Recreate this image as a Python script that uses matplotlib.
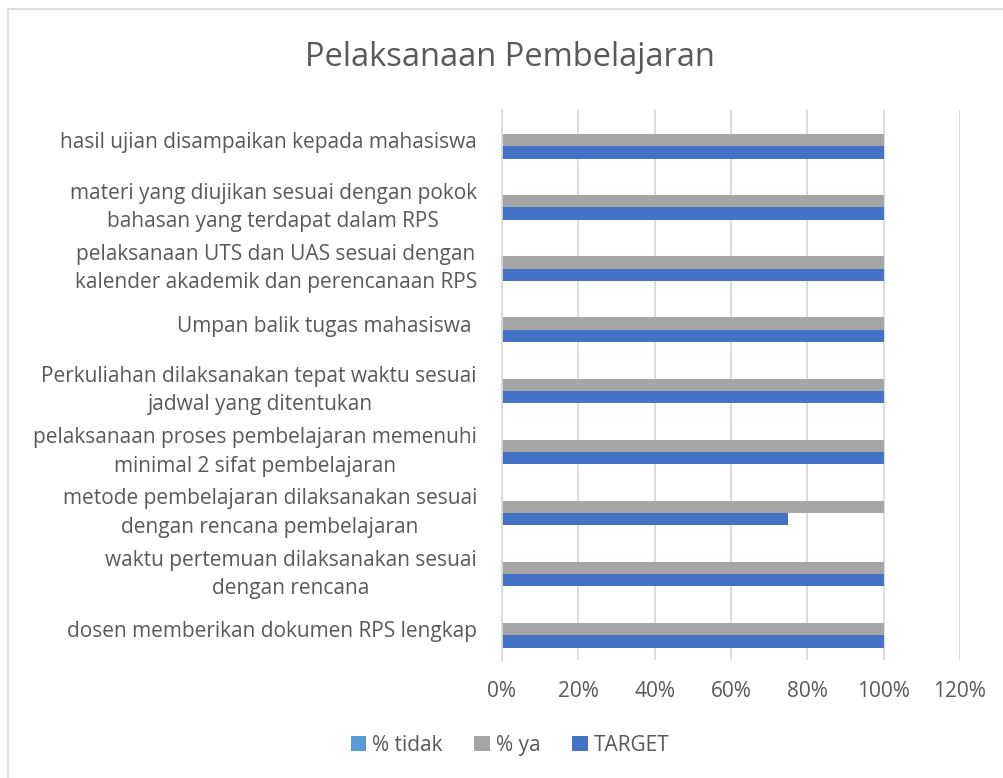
import matplotlib.pyplot as plt
import numpy as np
from matplotlib.patches import Rectangle
from matplotlib.ticker import PercentFormatter

plt.rcParams['font.family'] = ['Open Sans', 'DejaVu Sans']

# Data (top to bottom as shown)
categories = [
    'hasil ujian disampaikan kepada mahasiswa',
    'materi yang diujikan sesuai dengan pokok\nbahasan yang terdapat dalam RPS',
    'pelaksanaan UTS dan UAS sesuai dengan\nkalender akademik dan perencanaan RPS',
    'Umpan balik tugas mahasiswa ',
    'Perkuliahan dilaksanakan tepat waktu sesuai\njadwal yang ditentukan',
    'pelaksanaan proses pembelajaran memenuhi\nminimal 2 sifat pembelajaran',
    'metode pembelajaran dilaksanakan sesuai\ndengan rencana pembelajaran',
    'waktu pertemuan dilaksanakan sesuai\ndengan rencana',
    'dosen memberikan dokumen RPS lengkap',
]
pct_tidak = [0, 0, 0, 0, 0, 0, 0, 0, 0]
pct_ya = [1, 1, 1, 1, 1, 1, 1, 1, 1]
target = [1, 1, 1, 1, 1, 1, 0.75, 1, 1]

text_color = '#595959'
grid_color = '#d9d9d9'

fig = plt.figure(figsize=(10.04, 7.78), dpi=100)
ax = fig.add_axes([0.5, 0.152, 0.456, 0.707])

y = np.arange(len(categories))
h = 0.2
ax.barh(y - h, pct_tidak, height=h, color='#5B9BD5', label='% tidak')
ax.barh(y, pct_ya, height=h, color='#A5A5A5', label='% ya')
ax.barh(y + h, target, height=h, color='#4472C4', label='TARGET')

ax.set_xlim(0, 1.2)
ax.set_ylim(len(categories) - 0.5, -0.5)
ax.set_xticks(np.arange(0, 1.21, 0.2))
ax.xaxis.set_major_formatter(PercentFormatter(1.0, decimals=0))
ax.set_yticks(y)
ax.set_yticklabels(categories, multialignment='center', linespacing=1.45)

ax.grid(axis='x', color=grid_color, linewidth=1.3)
ax.set_axisbelow(True)
for s in ['top', 'right', 'bottom']:
    ax.spines[s].set_visible(False)
ax.spines['left'].set_color(grid_color)
ax.spines['left'].set_linewidth(1.3)
ax.tick_params(axis='x', length=0, pad=15, labelsize=15, labelcolor=text_color)
ax.tick_params(axis='y', length=0, pad=18, labelsize=15, labelcolor=text_color)

fig.text(0.508, 0.926, 'Pelaksanaan Pembelajaran', ha='center', va='center',
         fontsize=23.5, color=text_color)

leg = fig.legend(loc='center', bbox_to_anchor=(0.508, 0.042), ncol=3, frameon=False,
                 fontsize=15, handlelength=0.75, handleheight=0.75, handletextpad=0.3,
                 columnspacing=1.5)
for t in leg.get_texts():
    t.set_color(text_color)

# chart border
fig.patches.append(Rectangle((0.008, -0.1), 1.2, 1.088, transform=fig.transFigure,
                             fill=False, edgecolor='#d9d9d9', linewidth=1.2))

fig.savefig('out.png', dpi=100)
